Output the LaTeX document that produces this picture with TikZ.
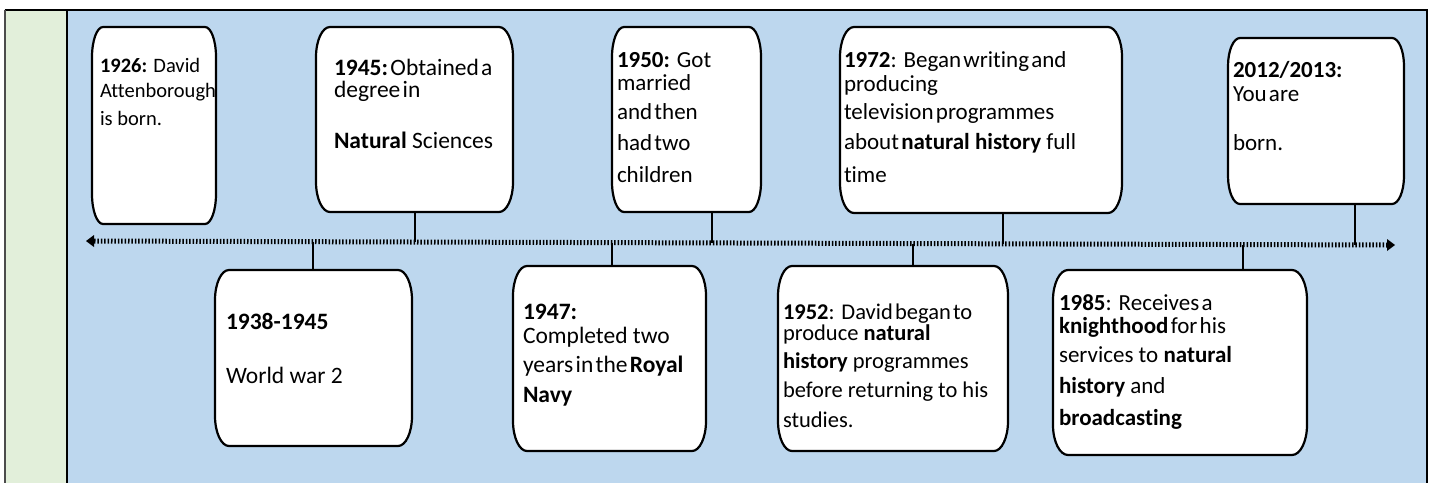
\documentclass[tikz,border=0pt]{standalone}
\usepackage{fontspec}
\setmainfont{Carlito}[Ligatures=NoCommon]
\usetikzlibrary{calc}
\definecolor{bluebg}{HTML}{BDD7EE}
\definecolor{greenbg}{HTML}{E2EFDA}
\newcommand\ts{\hspace{0.1em}}
\newcommand\tblock[1]{\vtop{\baselineskip=0pt\lineskiplimit=-\maxdimen\lineskip=0pt #1}}
\newcommand\tline[2]{\vskip#1pt\hbox{#2}}
\newcommand\fsz[1]{\fontsize{#1}{#1}\selectfont}
% outline of a box with elliptical corners around node #1
\newcommand\eboxdraw[3]{%
  \filldraw[boxline] ([xshift=#2pt]#1.north west) -- ([xshift=-#2pt]#1.north east)
    arc[start angle=90,end angle=0,x radius=#2pt,y radius=#3pt]
    -- ([yshift=#3pt]#1.south east)
    arc[start angle=0,end angle=-90,x radius=#2pt,y radius=#3pt]
    -- ([xshift=#2pt]#1.south west)
    arc[start angle=270,end angle=180,x radius=#2pt,y radius=#3pt]
    -- ([yshift=-#3pt]#1.north west)
    arc[start angle=180,end angle=90,x radius=#2pt,y radius=#3pt] -- cycle;}
\tikzset{
  boxarea/.style={inner sep=0pt, outer sep=0pt, draw=none},
  boxline/.style={draw=black, fill=white, line width=2.2pt},
  txt/.style={anchor=base west, inner sep=0pt, outer sep=0pt, text=black},
  conn/.style={draw=black, line width=2pt},
  frame/.style={draw=black, line width=2pt},
  timeline/.style={draw=black, line width=5pt, dash pattern=on 1.5pt off 1.9pt},
}
\begin{document}
\begin{tikzpicture}[x=1pt,y=-1pt]
\useasboundingbox (0,0) rectangle (1434,483);
\fill[white] (0,0) rectangle (1434,483);
% background panels
\fill[greenbg] (6,10) rectangle (66,483);
\fill[bluebg] (67,10) rectangle (1427,483);
\draw[frame] (4.5,10) -- (1428,10);
\draw[line width=1.6pt, draw=black!70] (5,10) -- (5,483);
\draw[frame] (66.5,10) -- (66.5,483);
\draw[frame] (1427,10) -- (1427,483);

% timeline
\coordinate (L) at (86,241);
\coordinate (R) at (1395,245);
\draw[timeline] ($(L)+(8,0.02)$) -- ($(R)+(-8,0)$);
\fill[black] (L) -- ++(8,-6) -- ++(0,12) -- cycle;
\fill[black] (R) -- ++(-8,-6) -- ++(0,12) -- cycle;

% points on the timeline
\coordinate (p2) at (415,242.0);
\coordinate (p3) at (712,242.9);
\coordinate (p4) at (1003,243.8);
\coordinate (p5) at (1355,244.9);
\coordinate (p6) at (313,241.7);
\coordinate (p7) at (612,242.6);
\coordinate (p8) at (913,243.5);
\coordinate (p9) at (1243,244.5);

% box areas
\node[boxarea, minimum width=124, minimum height=197] (b1) at (154,125.5) {};
\node[boxarea, minimum width=197, minimum height=185] (b2) at (414.5,119.5) {};
\node[boxarea, minimum width=149, minimum height=185] (b3) at (686.5,119.5) {};
\node[boxarea, minimum width=282, minimum height=186] (b4) at (981,120) {};
\node[boxarea, minimum width=176, minimum height=166] (b5) at (1316,121) {};
\node[boxarea, minimum width=197, minimum height=176] (b6) at (313.5,358) {};
\node[boxarea, minimum width=193, minimum height=185] (b7) at (609.5,358.5) {};
\node[boxarea, minimum width=230, minimum height=185] (b8) at (893,358.5) {};
\node[boxarea, minimum width=254, minimum height=185] (b9) at (1180,362.5) {};

% connectors
\draw[conn] (b2.south -| p2) -- (p2);
\draw[conn] (b3.south -| p3) -- (p3);
\draw[conn] (b4.south -| p4) -- (p4);
\draw[conn] (b5.south -| p5) -- (p5);
\draw[conn] (p6) -- (b6.north -| p6);
\draw[conn] (p7) -- (b7.north -| p7);
\draw[conn] (p8) -- (b8.north -| p8);
\draw[conn] (p9) -- (b9.north -| p9);

% box outlines
\eboxdraw{b1}{11}{30}
\eboxdraw{b2}{14}{30}
\eboxdraw{b3}{12}{30}
\eboxdraw{b4}{14}{30}
\eboxdraw{b5}{12}{28}
\eboxdraw{b6}{14}{30}
\eboxdraw{b7}{14}{30}
\eboxdraw{b8}{14}{30}
\eboxdraw{b9}{15}{30}

% texts
\node[txt, font=\fsz{20.5}] (t1) at (100,72) {\tblock{\hbox{\textbf{1926:} David}\tline{25}{Attenborough}\tline{28}{is born.}}};
\node[txt, font=\fsz{23.5}] (t2) at (334,75) {\tblock{\hbox{\textbf{1945:}\ts Obtained\ts a}\tline{22}{degree\ts in}\tline{51}{\textbf{Natural} Sciences}}};
\node[txt, font=\fsz{23}] (t3) at (617,67) {\tblock{\hbox{\textbf{1950:} Got}\tline{23}{married}\tline{29}{and\ts then}\tline{31}{had\ts two}\tline{32}{children}}};
\node[txt, font=\fsz{23}] (t4) at (844,67) {\tblock{\hbox{\textbf{1972}: Began\ts writing\ts and}\tline{24}{producing}\tline{28}{television\ts programmes}\tline{30}{about\ts\textbf{natural history} full}\tline{33}{time}}};
\node[txt, font=\fsz{23}] (t5) at (1233,77) {\tblock{\hbox{\textbf{2012/2013:}}\tline{24}{You\ts are}\tline{49}{born.}}};
\node[txt, font=\fsz{23.5}] (t6) at (226,329) {\tblock{\hbox{\textbf{1938-1945}}\tline{54}{World war 2}}};
\node[txt, font=\fsz{23.5}] (t7) at (523,319) {\tblock{\hbox{\textbf{1947:}}\tline{24}{Completed two}\tline{29}{years\ts in\ts the\ts\textbf{Royal}}\tline{30}{\textbf{Navy}}}};
\node[txt, font=\fsz{22.5}] (t8) at (783,319) {\tblock{\hbox{\textbf{1952}: David\ts began\ts to}\tline{21}{produce \textbf{natural}}\tline{28}{\textbf{history} programmes}\tline{29}{before returning to his}\tline{30}{studies.}}};
\node[txt, font=\fsz{23}] (t9) at (1059,310) {\tblock{\hbox{\textbf{1985}: Receives\ts a}\tline{23}{\textbf{knighthood}\ts for\ts his}\tline{29}{services to \textbf{natural}}\tline{31}{\textbf{history} and}\tline{32}{\textbf{broadcasting}}}};
\end{tikzpicture}
\end{document}
